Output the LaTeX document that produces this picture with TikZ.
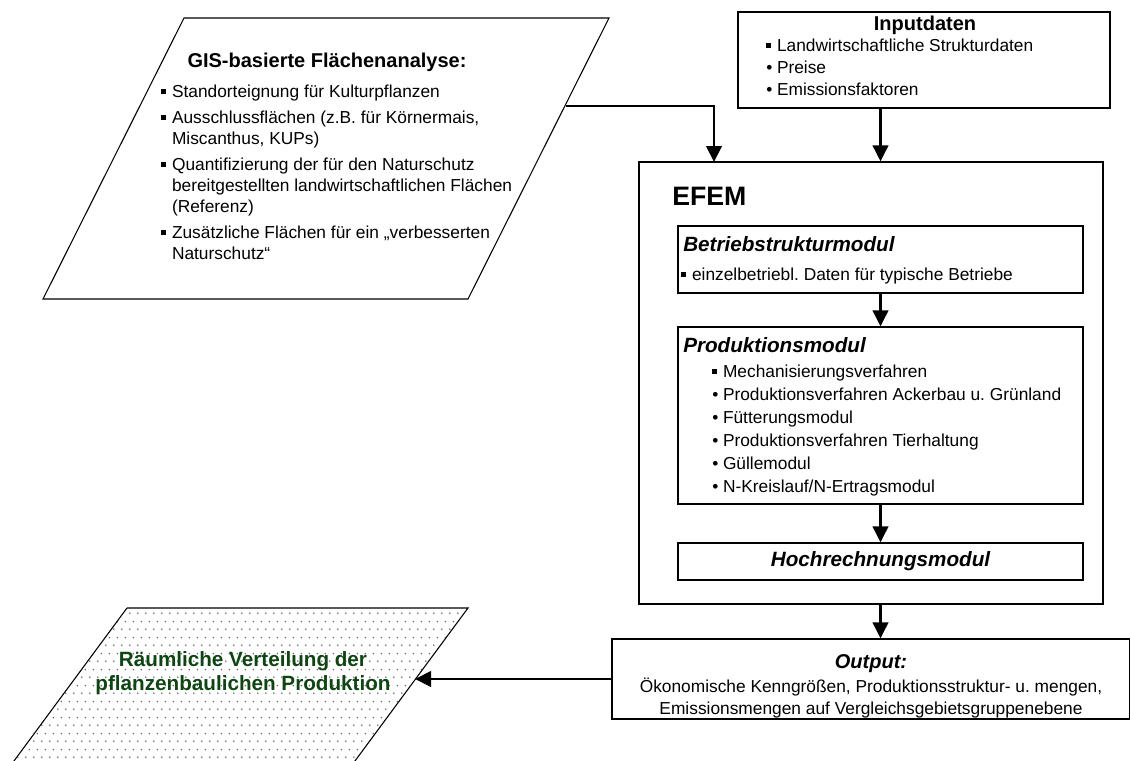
\documentclass[tikz,border=0pt]{standalone}
\usepackage{fontspec}
\setmainfont{Liberation Sans}
\usetikzlibrary{arrows.meta,fit,patterns.meta}

\definecolor{raumgreen}{RGB}{14,70,18}
\newcommand{\sqb}{\makebox[0.62em][l]{\rule[0.2em]{0.3em}{0.3em}}}
\newcommand{\rdb}{\makebox[0.62em][l]{\textbullet}}
\newcommand{\ind}{\hphantom{\sqb}}

\tikzdeclarepattern{
  name=sparsedots,
  type=uncolored,
  bounding box={(0pt,0pt) and (6pt,12pt)},
  tile size={(6pt,12pt)},
  code={\fill (1.5pt,3pt) circle (0.65pt); \fill (4.5pt,9pt) circle (0.65pt);}
}

\begin{document}
\frenchspacing
\begin{tikzpicture}[x=0.75pt,y=-0.75pt,
    box/.style={draw,line width=0.9pt,inner sep=0pt},
    arrow/.style={line width=2.2pt,-{Triangle[width=11.5pt,length=12pt]}},
    body/.style={font=\fontsize{13}{15.75}\selectfont,inner sep=0pt,align=left,anchor=north west},
    titlebf/.style={font=\fontsize{15}{18}\selectfont\bfseries,inner sep=0pt},
    titlebi/.style={font=\fontsize{15.5}{18}\selectfont\bfseries\itshape,inner sep=0pt}]
  \useasboundingbox (0,0) rectangle (1131,760);

  % GIS
  \draw[line width=0.8pt] (184,18) -- (609,18) -- (468,299) -- (43,299) -- cycle;
  \coordinate (gisout) at (566,106);
  \node[titlebf,anchor=base] (gistitle) at (327,67) {GIS-basierte Flächenanalyse:};
  \node[body] (gislist) at (161,85) {\sqb Standorteignung für Kulturpflanzen\\[3.75pt]
    \sqb Ausschlussflächen (z.B. für Körnermais,\\
    \ind Miscanthus, KUPs)\\[3.75pt]
    \sqb Quantifizierung der für den Naturschutz\\
    \ind bereitgestellten landwirtschaftlichen Flächen\\
    \ind (Referenz)\\[3.75pt]
    \sqb Zusätzliche Flächen für ein „verbesserten\\
    \ind Naturschutz“};

  % Inputdaten
  \node[box,fit={(738,12) (1110,108)}] (input) {};
  \node[titlebf,anchor=base] (inputtitle) at (925,31) {Inputdaten};
  \node[body,font=\fontsize{13}{16.5}\selectfont] (inputlist) at (766,39) {\sqb Landwirtschaftliche Strukturdaten\\
    \rdb Preise\\
    \rdb Emissionsfaktoren};

  % EFEM
  \node[box,fit={(639,162) (1103,604)}] (efem) {};
  \node[font=\fontsize{20}{24}\selectfont\bfseries,inner sep=0pt,anchor=base west] (efemtitle) at (672,205) {EFEM};
  \coordinate (efemin) at (714,162);

  \node[box,fit={(678,226) (1083,293)}] (betrieb) {};
  \node[titlebi,anchor=base west] (betriebtitle) at (683,251) {Betriebstrukturmodul};
  \node[body] (betrieblist) at (681,268) {\sqb einzelbetriebl. Daten für typische Betriebe};

  \node[box,fit={(678,327) (1083,504)}] (prod) {};
  \node[titlebi,anchor=base west] (prodtitle) at (683,352) {Produktionsmodul};
  \node[body,font=\fontsize{13}{17.25}\selectfont] (prodlist) at (712,365) {\sqb Mechanisierungsverfahren\\
    \rdb Produktionsverfahren Ackerbau u. Grünland\\
    \rdb Fütterungsmodul\\
    \rdb Produktionsverfahren Tierhaltung\\
    \rdb Güllemodul\\
    \rdb N-Kreislauf/N-Ertragsmodul};

  \node[box,fit={(678,543) (1083,580)}] (hoch) {};
  \node[titlebi] (hochtext) at (hoch) {Hochrechnungsmodul};

  % Output
  \node[box,fit={(612,639) (1129.5,719)}] (output) {};
  \node[titlebi,font=\fontsize{15}{18}\selectfont\bfseries\itshape,anchor=base] (outtitle) at (871,668) {Output:};
  \node[font=\fontsize{13}{16.5}\selectfont,inner sep=0pt,align=center,anchor=north] (outtext) at (871,678)
    {Ökonomische Kenngrößen, Produktionsstruktur- u. mengen,\\Emissionsmengen auf Vergleichsgebietsgruppenebene};

  % Raeumliche Verteilung
  \fill[pattern=sparsedots,pattern color=black!65] (127,608) -- (468,608) -- (352,765) -- (11,765) -- cycle;
  \draw[line width=0.8pt] (127,608) -- (468,608) -- (352,765) (127,608) -- (11,765);
  \coordinate (raumin) at (415,679);
  \node[font=\fontsize{15.5}{17.5}\selectfont\bfseries,text=raumgreen,inner sep=0pt,align=center] (raumtext) at (243,673)
    {Räumliche Verteilung der\\pflanzenbaulichen Produktion};

  % Pfeile
  \draw[arrow] (gisout) -| (efemin);
  \draw[arrow] (input.south -| prod.north) -- (efem.north -| prod.north);
  \draw[arrow] (betrieb) -- (prod);
  \draw[arrow] (prod) -- (hoch);
  \draw[arrow] (efem.south -| hoch.south) -- (output.north -| hoch.south);
  \draw[arrow] (output.west) -- (raumin);
\end{tikzpicture}
\end{document}
